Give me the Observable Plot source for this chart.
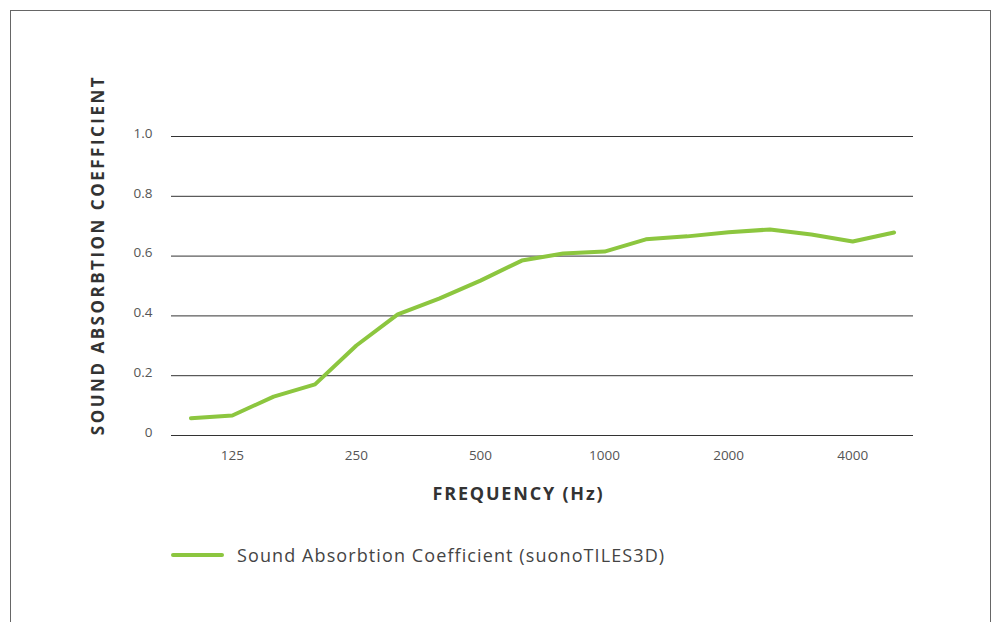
<!DOCTYPE html>
<html>
<head>
<meta charset="utf-8">
<script src="https://cdn.jsdelivr.net/npm/d3@7"></script>
<script src="https://cdn.jsdelivr.net/npm/@observablehq/plot@0.6"></script>
<style>
  html, body { margin: 0; padding: 0; background: #fff; }
  body { width: 998px; height: 622px; position: relative; overflow: hidden; font-family: "Open Sans", sans-serif; }
  #frame { position: absolute; left: 10px; top: 10px; width: 981px; height: 640px; border: 1.5px solid #666; border-bottom: none; box-sizing: border-box; }
  #chart { position: absolute; left: 0; top: 0; }
  #legend { position: absolute; left: 171px; top: 543px; display: flex; align-items: center; }
  #legend .swatch { width: 53px; height: 4px; background: #8cc63f; border-radius: 2px; margin-right: 13px; }
  #legend .label { font-size: 18px; color: #444; font-family: "Open Sans", sans-serif; letter-spacing: 1.1px; }
</style>
</head>
<body>
<div id="frame"></div>
<div id="chart"></div>
<div id="legend"><div class="swatch"></div><div class="label">Sound Absorbtion Coefficient (suonoTILES3D)</div></div>
<script>
const frequencies = ["100","125","160","200","250","315","400","500","630","800","1000","1250","1600","2000","2500","3150","4000","5000"];
const coefficients = [0.058,0.067,0.130,0.171,0.301,0.405,0.458,0.518,0.585,0.609,0.615,0.656,0.666,0.680,0.689,0.672,0.649,0.679];
const xTickLabels = ["125","250","500","1000","2000","4000"];
const yTicks = [0, 0.2, 0.4, 0.6, 0.8, 1.0];
const seriesName = "Sound Absorbtion Coefficient (suonoTILES3D)";

const data = frequencies.map((f, i) => ({freq: f, value: coefficients[i]}));

const chart = Plot.plot({
  width: 998,
  height: 520,
  marginLeft: 171,
  marginRight: 85,
  marginTop: 136,
  marginBottom: 85,
  style: {fontFamily: "Open Sans, sans-serif", background: "transparent"},
  x: {type: "point", domain: frequencies, padding: 0.47, round: false, label: null},
  y: {domain: [0, 1], label: null},
  marks: [
    Plot.ruleY(yTicks, {stroke: "#333", strokeWidth: 1}),
    Plot.axisY(yTicks, {
      tickSize: 0, tickPadding: 19, fontSize: 13.5, fill: "#555", dy: -3,
      tickFormat: d => d === 0 ? "0" : d.toFixed(1)
    }),
    Plot.axisX(xTickLabels, {tickSize: 0, tickPadding: 15, fontSize: 13.5, fill: "#555"}),
    Plot.line(data, {x: "freq", y: "value", stroke: "#8cc63f", strokeWidth: 4, strokeLinecap: "round", strokeLinejoin: "round"}),
    Plot.text(["FREQUENCY (Hz)"], {
      frameAnchor: "bottom", dy: 59, dx: -24, lineAnchor: "middle", textAnchor: "middle",
      fontSize: 18, fontWeight: "bold", fill: "#333"
    }),
    Plot.text(["SOUND ABSORBTION COEFFICIENT"], {
      frameAnchor: "left", rotate: -90, dx: -73, dy: -31, lineAnchor: "middle", textAnchor: "middle",
      fontSize: 17, fontWeight: "bold", fill: "#333"
    })
  ]
});
chart.querySelectorAll("text").forEach(t => {
  if (t.textContent === "SOUND ABSORBTION COEFFICIENT") t.style.letterSpacing = "2.5px";
  if (t.textContent === "FREQUENCY (Hz)") t.style.letterSpacing = "1.8px";
});
document.getElementById("chart").appendChild(chart);
</script>
</body>
</html>
